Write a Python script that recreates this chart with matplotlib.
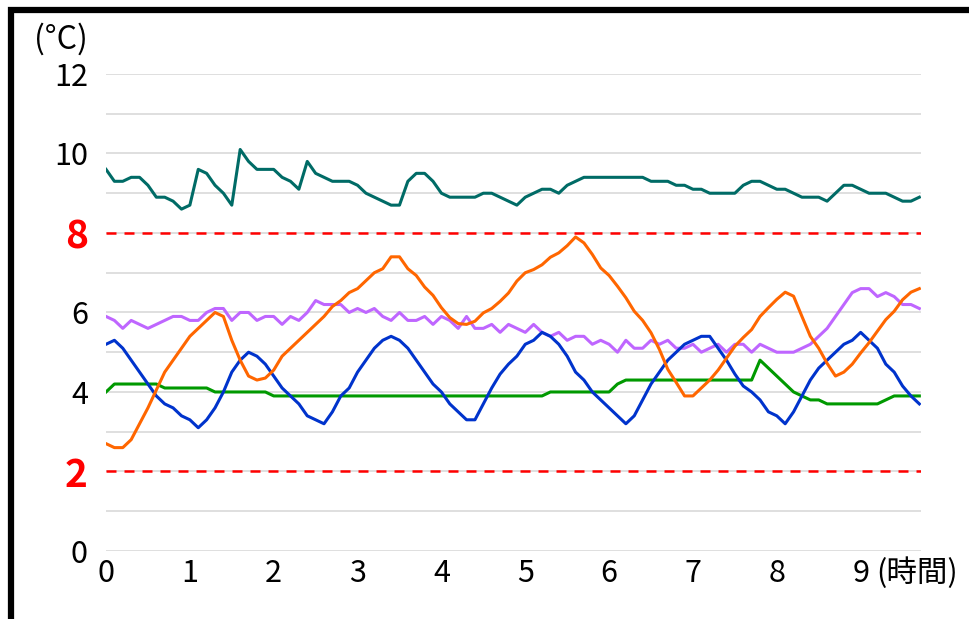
import numpy as np
import matplotlib
matplotlib.use('Agg')
import matplotlib.pyplot as plt
from matplotlib.patches import Rectangle

plt.rcParams['font.family'] = ['Noto Sans CJK JP', 'DejaVu Sans']

# 6分ごとの温度データ (°C)
teal = [9.6, 9.3, 9.3, 9.4, 9.4, 9.2, 8.9, 8.9, 8.8, 8.6, 8.7, 9.6, 9.5, 9.2, 9.0, 8.7, 10.1, 9.8, 9.6, 9.6,
        9.6, 9.4, 9.3, 9.1, 9.8, 9.5, 9.4, 9.3, 9.3, 9.3, 9.2, 9.0, 8.9, 8.8, 8.7, 8.7, 9.3, 9.5, 9.5, 9.3,
        9.0, 8.9, 8.9, 8.9, 8.9, 9.0, 9.0, 8.9, 8.8, 8.7, 8.9, 9.0, 9.1, 9.1, 9.0, 9.2, 9.3, 9.4, 9.4, 9.4,
        9.4, 9.4, 9.4, 9.4, 9.4, 9.3, 9.3, 9.3, 9.2, 9.2, 9.1, 9.1, 9.0, 9.0, 9.0, 9.0, 9.2, 9.3, 9.3, 9.2,
        9.1, 9.1, 9.0, 8.9, 8.9, 8.9, 8.8, 9.0, 9.2, 9.2, 9.1, 9.0, 9.0, 9.0, 8.9, 8.8, 8.8, 8.9]
orange = [2.7, 2.6, 2.6, 2.8, 3.2, 3.6, 4.05, 4.5, 4.8, 5.1, 5.4, 5.6, 5.8, 6.0, 5.9, 5.3, 4.8, 4.4, 4.3, 4.35,
          4.55, 4.9, 5.1, 5.3, 5.5, 5.7, 5.9, 6.15, 6.3, 6.5, 6.6, 6.8, 7.0, 7.1, 7.4, 7.4, 7.1, 6.93, 6.64, 6.43,
          6.12, 5.87, 5.72, 5.7, 5.78, 5.99, 6.1, 6.28, 6.49, 6.79, 7.0, 7.08, 7.2, 7.39, 7.5, 7.68, 7.9, 7.75, 7.46, 7.12,
          6.93, 6.66, 6.37, 6.03, 5.8, 5.49, 5.07, 4.57, 4.24, 3.9, 3.9, 4.1, 4.3, 4.55, 4.85, 5.15, 5.37, 5.57, 5.9, 6.12,
          6.33, 6.51, 6.41, 5.9, 5.4, 5.1, 4.72, 4.4, 4.5, 4.7, 4.98, 5.24, 5.53, 5.82, 6.03, 6.32, 6.51, 6.6]
purple = [5.9, 5.8, 5.6, 5.8, 5.7, 5.6, 5.7, 5.8, 5.9, 5.9, 5.8, 5.8, 6.0, 6.1, 6.1, 5.8, 6.0, 6.0, 5.8, 5.9,
          5.9, 5.7, 5.9, 5.8, 6.0, 6.3, 6.2, 6.2, 6.2, 6.0, 6.1, 6.0, 6.1, 5.9, 5.8, 6.0, 5.8, 5.8, 5.9, 5.7,
          5.9, 5.8, 5.6, 5.9, 5.6, 5.6, 5.7, 5.5, 5.7, 5.6, 5.5, 5.7, 5.5, 5.4, 5.5, 5.3, 5.4, 5.4, 5.2, 5.3,
          5.2, 5.0, 5.3, 5.1, 5.1, 5.3, 5.2, 5.3, 5.1, 5.1, 5.2, 5.0, 5.1, 5.2, 5.0, 5.2, 5.2, 5.0, 5.2, 5.1,
          5.0, 5.0, 5.0, 5.1, 5.2, 5.4, 5.6, 5.9, 6.2, 6.5, 6.6, 6.6, 6.4, 6.5, 6.4, 6.2, 6.2, 6.1]
blue = [5.2, 5.3, 5.1, 4.8, 4.5, 4.2, 3.9, 3.7, 3.6, 3.4, 3.3, 3.1, 3.3, 3.6, 4.0, 4.5, 4.8, 5.0, 4.9, 4.7,
        4.4, 4.1, 3.9, 3.7, 3.4, 3.3, 3.2, 3.5, 3.9, 4.1, 4.5, 4.8, 5.1, 5.3, 5.4, 5.3, 5.1, 4.8, 4.5, 4.2,
        4.0, 3.7, 3.5, 3.3, 3.3, 3.7, 4.1, 4.45, 4.7, 4.9, 5.2, 5.3, 5.5, 5.4, 5.2, 4.9, 4.5, 4.3, 4.0, 3.8,
        3.6, 3.4, 3.2, 3.4, 3.8, 4.2, 4.5, 4.8, 5.0, 5.2, 5.3, 5.4, 5.4, 5.1, 4.8, 4.45, 4.15, 4.0, 3.8, 3.5,
        3.4, 3.2, 3.5, 3.9, 4.3, 4.6, 4.8, 5.0, 5.2, 5.3, 5.5, 5.3, 5.1, 4.7, 4.5, 4.15, 3.9, 3.7]
green = [4.0, 4.2, 4.2, 4.2, 4.2, 4.2, 4.2, 4.1, 4.1, 4.1, 4.1, 4.1, 4.1, 4.0, 4.0, 4.0, 4.0, 4.0, 4.0, 4.0,
         3.9, 3.9, 3.9, 3.9, 3.9, 3.9, 3.9, 3.9, 3.9, 3.9, 3.9, 3.9, 3.9, 3.9, 3.9, 3.9, 3.9, 3.9, 3.9, 3.9,
         3.9, 3.9, 3.9, 3.9, 3.9, 3.9, 3.9, 3.9, 3.9, 3.9, 3.9, 3.9, 3.9, 4.0, 4.0, 4.0, 4.0, 4.0, 4.0, 4.0,
         4.0, 4.2, 4.3, 4.3, 4.3, 4.3, 4.3, 4.3, 4.3, 4.3, 4.3, 4.3, 4.3, 4.3, 4.3, 4.3, 4.3, 4.3, 4.8, 4.6,
         4.4, 4.2, 4.0, 3.9, 3.8, 3.8, 3.7, 3.7, 3.7, 3.7, 3.7, 3.7, 3.7, 3.8, 3.9, 3.9, 3.9, 3.9]

limits = [2, 8]
y_ticks = [0, 2, 4, 6, 8, 10, 12]
x_ticks = [0, 1, 2, 3, 4, 5, 6, 7, 8, 9]

hours = np.arange(len(teal)) * 0.1

fig = plt.figure(figsize=(9.7, 6.19), dpi=100)
ax = fig.add_axes([0.1093, 0.1099, 0.8402, 0.7706])

# 上限・下限の赤い破線
for lim in limits:
    ax.axhline(lim, color='#FF0000', lw=1.8, dashes=(4, 3.2), zorder=2)

ax.plot(hours, teal, color='#006B66', lw=2.2, zorder=3)
ax.plot(hours, purple, color='#BF66FF', lw=2.2, zorder=3)
ax.plot(hours, orange, color='#FF6600', lw=2.2, zorder=4)
ax.plot(hours, green, color='#009900', lw=2.2, zorder=3)
ax.plot(hours, blue, color='#0033CC', lw=2.2, zorder=3)

ax.set_xlim(0, 9.72)
ax.set_ylim(0, 12)
ax.set_yticks(y_ticks)
ax.set_yticks(range(0, 13), minor=True)
ax.set_xticks(x_ticks)
ax.grid(axis='y', which='both', color='#D9D9D9', lw=1.2, zorder=1)
ax.set_axisbelow(True)
for s in ax.spines.values():
    s.set_visible(False)
ax.tick_params(axis='both', which='both', length=0)
ax.tick_params(axis='y', pad=13, labelsize=22)
ax.tick_params(axis='x', pad=5, labelsize=22)

# 2と8のラベルは赤太字
for lbl in ax.get_yticklabels():
    if lbl.get_text() in ('2', '8'):
        lbl.set_color('#FF0000')
        lbl.set_fontweight('bold')
        lbl.set_fontsize(28)

ax.text(9.19, -0.047, '(時間)', transform=ax.get_xaxis_transform(),
        ha='left', va='center', fontsize=22)
fig.text(0.091, 0.937, '(°C)', ha='right', va='center', fontsize=23)

# 黒い枠線（上と左）
fig.add_artist(Rectangle((0.0113, -0.2), 1.5, 1.184, transform=fig.transFigure,
                         fill=False, edgecolor='black', lw=4.5))

fig.savefig('out.png', dpi=100)
plt.close(fig)
